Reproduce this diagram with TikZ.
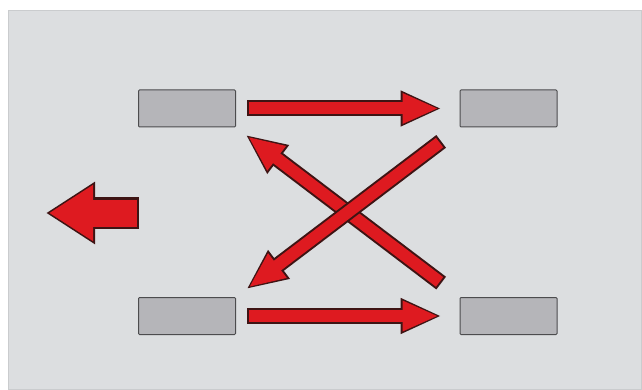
\documentclass[tikz,border=0pt]{standalone}
\usetikzlibrary{arrows.meta}
\definecolor{panelgray}{HTML}{DCDEE0}
\definecolor{tiregray}{HTML}{B5B5B9}
\definecolor{tireedge}{HTML}{4C4C4E}
\definecolor{arrowred}{HTML}{DE1A20}
\definecolor{arrowedge}{HTML}{3E1414}

\begin{document}
\begin{tikzpicture}[x=1pt,y=-1pt,
  tire/.style={draw=tireedge, fill=tiregray, line width=1pt, rounded corners=1pt,
    minimum width=97pt, minimum height=37pt, inner sep=0pt},
  swapout/.style={draw=arrowedge, line width=16pt, -{Triangle[length=41pt,width=33pt]}},
  swapin/.style={draw=arrowred, line width=12pt, -{Triangle[length=36pt,width=28pt]}},
  headout/.style={draw=arrowedge, line width=32pt, -{Triangle[length=49pt,width=59pt]}},
  headin/.style={draw=arrowred, line width=27pt, -{Triangle[length=44pt,width=53pt]}}]
  \useasboundingbox (0,0) rectangle (642,390);
  \fill[white] (0,0) rectangle (642,390);
  \draw[fill=panelgray, draw=panelgray!92!black, line width=0.5pt] (8,10) rectangle (641,389);

  \node[tire] (tl) at (187,108.5) {};
  \node[tire] (tr) at (508.5,108.5) {};
  \node[tire] (bl) at (187,316) {};
  \node[tire] (br) at (508.5,316) {};

  % driving direction
  \coordinate (dirtail) at (139,213);
  \coordinate (dirtip) at (46,213);
  \draw[headout] (dirtail) -- (dirtip);
  \draw[headin, shorten <=2pt, shorten >=3pt] (dirtail) -- (dirtip);

  \draw[swapout, shorten <=11pt, shorten >=18pt] (tl.east) -- (tr.west);
  \draw[swapin, shorten <=13pt, shorten >=21pt] (tl.east) -- (tr.west);
  \draw[swapout, shorten <=11pt, shorten >=18pt] (bl.east) -- (br.west);
  \draw[swapin, shorten <=13pt, shorten >=21pt] (bl.east) -- (br.west);

  \draw[swapout, shorten <=23pt, shorten >=12pt] (br.north west) -- (tl.south east);
  \draw[swapin, shorten <=25pt, shorten >=15pt] (br.north west) -- (tl.south east);
  \draw[swapout, shorten <=23pt, shorten >=13pt] (tr.south west) -- (bl.north east);
  \draw[swapin, shorten <=25pt, shorten >=16pt] (tr.south west) -- (bl.north east);
\end{tikzpicture}
\end{document}
